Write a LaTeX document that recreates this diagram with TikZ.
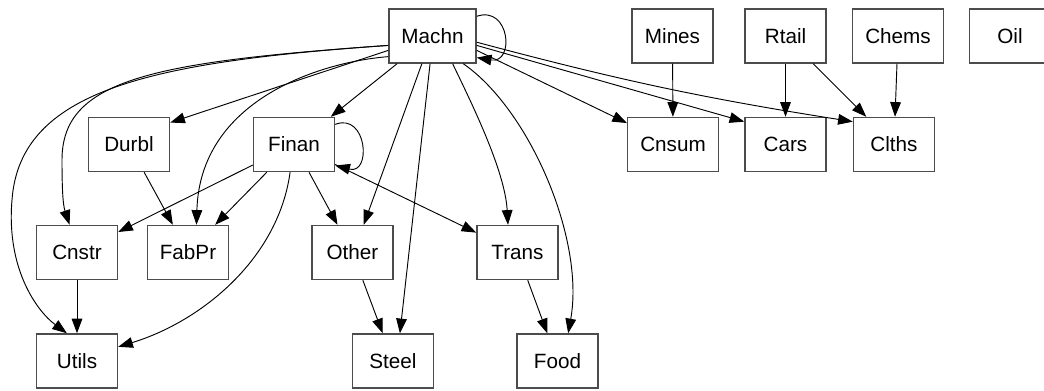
\documentclass[tikz,border=0pt]{standalone}
\usepackage{fontspec}
\setmainfont{Liberation Sans}
\usetikzlibrary{arrows.meta}

\tikzset{
  sector/.style={draw=black!70, line width=1.1pt, fill=white,
    minimum width=60.75pt, minimum height=40.5pt, inner xsep=9.4pt,
    font=\fontsize{15.5pt}{18pt}\selectfont},
  flow/.style={-{Triangle[length=11pt,width=8pt]}, line width=0.7pt, color=black},
}

\begin{document}
\begin{tikzpicture}[x=0.75pt,y=0.75pt,yscale=-1,xscale=1]
            \useasboundingbox (0,0) rectangle (1044,390);
            %Shape: Rectangle [top row]
            \node[sector] (Machn) at (432.5,36) {Machn};
            \node[sector] (Mines) at (672.5,36) {Mines};
            \node[sector] (Rtail) at (785.5,36) {Rtail};
            \node[sector] (Chems) at (898,36) {Chems};
            \node[sector] (Oil) at (1010,36) {Oil};
            %Shape: Rectangle [second row]
            \node[sector] (Durbl) at (129,144.5) {Durbl};
            \node[sector] (Finan) at (294,144.5) {Finan};
            \node[sector] (Cnsum) at (673,144.5) {Cnsum};
            \node[sector] (Cars) at (785.5,144.5) {Cars};
            \node[sector] (Clths) at (894,144.5) {Clths};
            %Shape: Rectangle [third row]
            \node[sector] (Cnstr) at (77,252.5) {Cnstr};
            \node[sector] (FabPr) at (188,252.5) {FabPr};
            \node[sector] (Other) at (352.5,252.5) {Other};
            \node[sector] (Trans) at (517.5,252.5) {Trans};
            %Shape: Rectangle [bottom row]
            \node[sector] (Utils) at (77,361) {Utils};
            \node[sector] (Steel) at (393,361) {Steel};
            \node[sector] (Food) at (557.5,361) {Food};

            %Curve Lines [self loops]
            \draw[flow] (Machn.24) .. controls (510,5) and (515,64) .. (Machn.334);
            \draw[flow] (Finan.26) .. controls (367,112) and (372,175) .. (Finan.333);
            %Curve Lines [Machn to the left]
            \draw[flow] (Machn.192) .. controls (150,62) and (20,90) .. (12,200) .. controls (6,270) and (38,312) .. (Utils.110);
            \draw[flow] (Machn.192) .. controls (150,62) and (62,80) .. (62,160) .. controls (62,190) and (63,205) .. (Cnstr.105);
            \draw[flow] (Machn.205) .. controls (320,62) and (200,100) .. (FabPr.73);
            %Straight Lines [Machn]
            \draw[flow] (Machn.198) -- (Durbl.28);
            \draw[flow] (Machn.218) -- (Finan.37);
            \draw[flow] (Machn.249) -- (Other.68);
            \draw[flow] (Machn.265) -- (Steel.76);
            \draw[flow] (Machn.306) .. controls (470,100) and (505,170) .. (Trans.109);
            \draw[flow] (Machn.318) .. controls (530,110) and (585,240) .. (Food.69);
            \draw[flow] (Machn.342) -- (Cnsum.155);
            \draw[flow] (Machn.348) -- (Cars.151);
            \draw[flow] (Machn.352) to[bend left=3] (Clths.151);
            %Straight Lines [top right]
            \draw[flow] (Mines) -- (Cnsum);
            \draw[flow] (Rtail) -- (Cars);
            \draw[flow] (Rtail) -- (Clths);
            \draw[flow] (Chems) -- (Clths);
            %Straight Lines [Finan, Durbl]
            \draw[flow] (Durbl) -- (FabPr);
            \draw[flow] (Finan) -- (Cnstr);
            \draw[flow] (Finan) -- (FabPr);
            \draw[flow] (Finan) -- (Other);
            \draw[flow] (Finan) -- (Trans);
            \draw[flow] (Finan.262) .. controls (278,260) and (200,322) .. (Utils.19);
            %Straight Lines [lower rows]
            \draw[flow] (Cnstr) -- (Utils);
            \draw[flow] (Other) -- (Steel);
            \draw[flow] (Trans) -- (Food);
        \end{tikzpicture}
\end{document}
